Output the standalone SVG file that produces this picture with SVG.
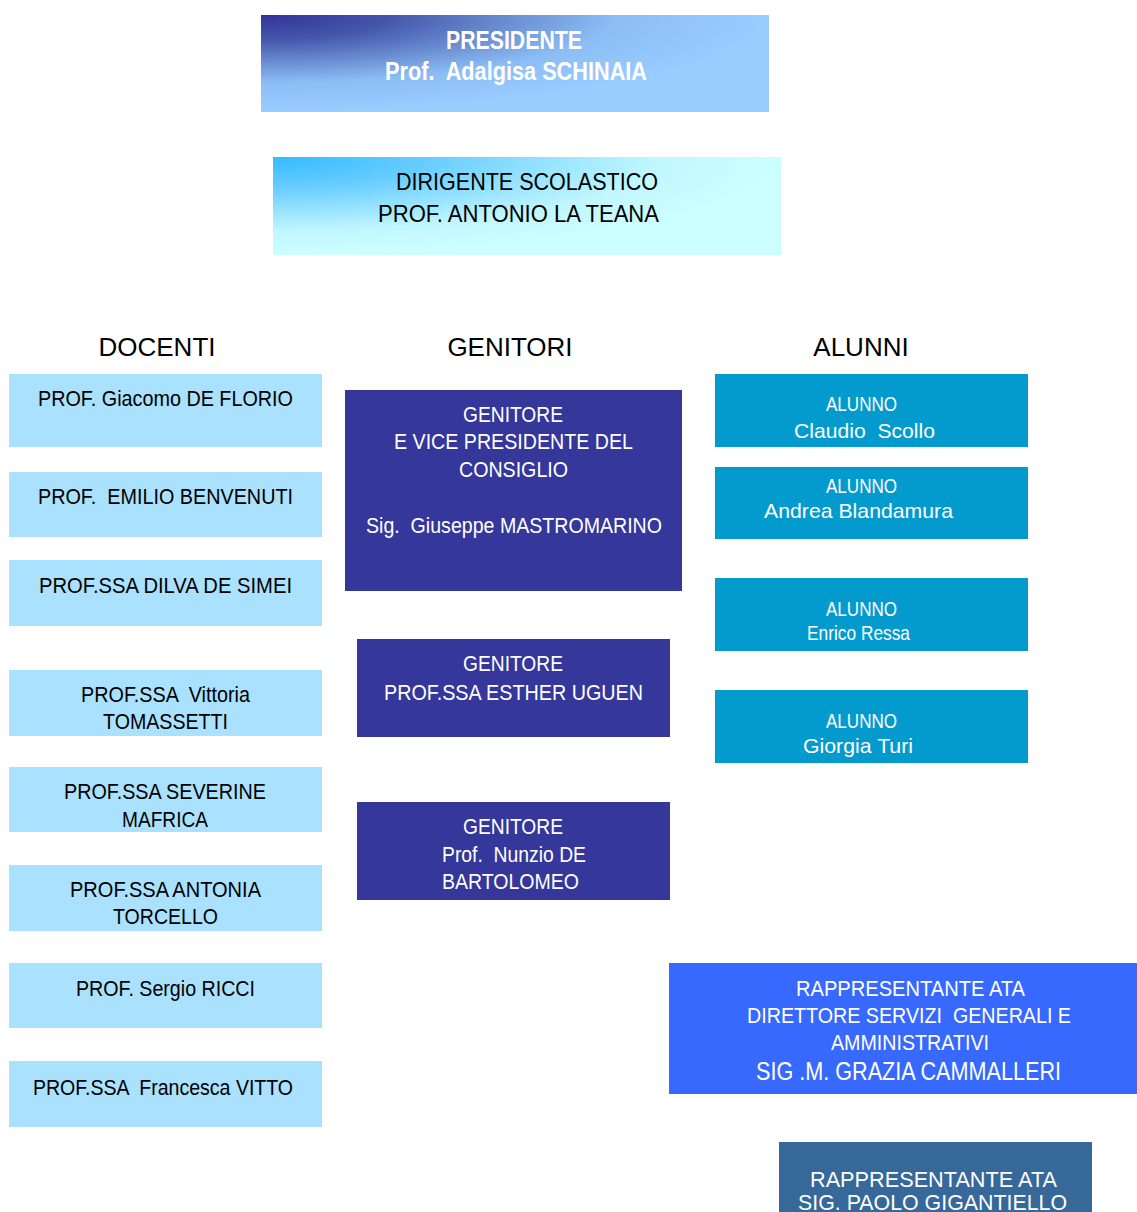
<svg xmlns="http://www.w3.org/2000/svg" width="1137" height="1212" viewBox="0 0 1137 1212">
<style>
text{font-family:"Liberation Sans",Arial,sans-serif;}
.t{font-size:22px;}
.dk{fill:#000;}
.wh{fill:#fff;}
.doc{fill:#AAE1FF;}
.gen{fill:#35379A;}
.alu{fill:#039BCE;}
.hdr{font-size:26px;fill:#000;text-anchor:middle;}
</style>
<defs>
<radialGradient id="gPres" cx="0" cy="0" r="1" fx="0" fy="0">
<stop offset="0" stop-color="#333399"/>
<stop offset="0.25" stop-color="#4456AA"/>
<stop offset="0.7" stop-color="#8CBEF5"/>
<stop offset="1" stop-color="#99CCFF"/>
</radialGradient>
<radialGradient id="gDir" cx="0" cy="0" r="1" fx="0" fy="0">
<stop offset="0" stop-color="#33BBFF"/>
<stop offset="0.3" stop-color="#66CCFF"/>
<stop offset="0.75" stop-color="#C0F6FF"/>
<stop offset="1" stop-color="#CCFFFF"/>
</radialGradient>
</defs>
<rect width="1137" height="1212" fill="#fff"/>

<g id="presidente">
<rect x="261" y="15" width="508" height="97" fill="url(#gPres)"/>
<text class="wh" x="446" y="49" font-size="26" font-weight="bold" textLength="136" lengthAdjust="spacingAndGlyphs">PRESIDENTE</text>
<text class="wh" x="385" y="80" font-size="26" font-weight="bold" textLength="262" lengthAdjust="spacingAndGlyphs" xml:space="preserve">Prof.  Adalgisa SCHINAIA</text>
</g>

<g id="dirigente">
<rect x="273" y="157" width="508" height="98" fill="url(#gDir)"/>
<text class="dk" x="396" y="190" font-size="24" textLength="262" lengthAdjust="spacingAndGlyphs">DIRIGENTE SCOLASTICO</text>
<text class="dk" x="378" y="222" font-size="24" textLength="281" lengthAdjust="spacingAndGlyphs">PROF. ANTONIO LA TEANA</text>
</g>

<g id="headers">
<text class="hdr" x="157" y="356">DOCENTI</text>
<text class="hdr" x="510" y="356">GENITORI</text>
<text class="hdr" x="861" y="356">ALUNNI</text>
</g>

<g id="docente1">
<rect class="doc" x="9" y="374" width="313" height="73"/>
<text class="t dk" x="38" y="406" textLength="255" lengthAdjust="spacingAndGlyphs">PROF. Giacomo DE FLORIO</text>
</g>
<g id="docente2">
<rect class="doc" x="9" y="472" width="313" height="65"/>
<text class="t dk" x="38" y="504" textLength="255" lengthAdjust="spacingAndGlyphs" xml:space="preserve">PROF.  EMILIO BENVENUTI</text>
</g>
<g id="docente3">
<rect class="doc" x="9" y="560" width="313" height="66"/>
<text class="t dk" x="39" y="593" textLength="253" lengthAdjust="spacingAndGlyphs">PROF.SSA DILVA DE SIMEI</text>
</g>
<g id="docente4">
<rect class="doc" x="9" y="670" width="313" height="66"/>
<text class="t dk" x="81" y="702" textLength="169" lengthAdjust="spacingAndGlyphs" xml:space="preserve">PROF.SSA  Vittoria</text>
<text class="t dk" x="103" y="729" textLength="125" lengthAdjust="spacingAndGlyphs">TOMASSETTI</text>
</g>
<g id="docente5">
<rect class="doc" x="9" y="767" width="313" height="65"/>
<text class="t dk" x="64" y="799" textLength="202" lengthAdjust="spacingAndGlyphs">PROF.SSA SEVERINE</text>
<text class="t dk" x="122" y="827" textLength="86" lengthAdjust="spacingAndGlyphs">MAFRICA</text>
</g>
<g id="docente6">
<rect class="doc" x="9" y="865" width="313" height="66"/>
<text class="t dk" x="70" y="897" textLength="191" lengthAdjust="spacingAndGlyphs">PROF.SSA ANTONIA</text>
<text class="t dk" x="113" y="924" textLength="105" lengthAdjust="spacingAndGlyphs">TORCELLO</text>
</g>
<g id="docente7">
<rect class="doc" x="9" y="963" width="313" height="65"/>
<text class="t dk" x="76" y="996" textLength="179" lengthAdjust="spacingAndGlyphs">PROF. Sergio RICCI</text>
</g>
<g id="docente8">
<rect class="doc" x="9" y="1061" width="313" height="66"/>
<text class="t dk" x="33" y="1095" textLength="260" lengthAdjust="spacingAndGlyphs" xml:space="preserve">PROF.SSA  Francesca VITTO</text>
</g>

<g id="genitore1">
<rect class="gen" x="345" y="390" width="337" height="201"/>
<text class="t wh" x="463" y="422" textLength="100" lengthAdjust="spacingAndGlyphs">GENITORE</text>
<text class="t wh" x="394" y="449" textLength="239" lengthAdjust="spacingAndGlyphs">E VICE PRESIDENTE DEL</text>
<text class="t wh" x="459" y="477" textLength="109" lengthAdjust="spacingAndGlyphs">CONSIGLIO</text>
<text class="t wh" x="366" y="533" textLength="296" lengthAdjust="spacingAndGlyphs" xml:space="preserve">Sig.  Giuseppe MASTROMARINO</text>
</g>
<g id="genitore2">
<rect class="gen" x="357" y="639" width="313" height="98"/>
<text class="t wh" x="463" y="671" textLength="100" lengthAdjust="spacingAndGlyphs">GENITORE</text>
<text class="t wh" x="384" y="700" textLength="259" lengthAdjust="spacingAndGlyphs">PROF.SSA ESTHER UGUEN</text>
</g>
<g id="genitore3">
<rect class="gen" x="357" y="802" width="313" height="98"/>
<text class="t wh" x="463" y="834" textLength="100" lengthAdjust="spacingAndGlyphs">GENITORE</text>
<text class="t wh" x="442" y="862" textLength="144" lengthAdjust="spacingAndGlyphs" xml:space="preserve">Prof.  Nunzio DE</text>
<text class="t wh" x="442" y="889" textLength="137" lengthAdjust="spacingAndGlyphs">BARTOLOMEO</text>
</g>

<g id="alunno1">
<rect class="alu" x="715" y="374" width="313" height="73"/>
<text class="wh" font-size="21" x="826" y="411" textLength="71" lengthAdjust="spacingAndGlyphs">ALUNNO</text>
<text class="wh" font-size="21" x="794" y="438" textLength="141" lengthAdjust="spacingAndGlyphs" xml:space="preserve">Claudio  Scollo</text>
</g>
<g id="alunno2">
<rect class="alu" x="715" y="467" width="313" height="72"/>
<text class="wh" font-size="21" x="826" y="493" textLength="71" lengthAdjust="spacingAndGlyphs">ALUNNO</text>
<text class="wh" font-size="21" x="764" y="518" textLength="189" lengthAdjust="spacingAndGlyphs">Andrea Blandamura</text>
</g>
<g id="alunno3">
<rect class="alu" x="715" y="578" width="313" height="73"/>
<text class="wh" font-size="21" x="826" y="616" textLength="71" lengthAdjust="spacingAndGlyphs">ALUNNO</text>
<text class="wh" font-size="21" x="807" y="640" textLength="103" lengthAdjust="spacingAndGlyphs">Enrico Ressa</text>
</g>
<g id="alunno4">
<rect class="alu" x="715" y="690" width="313" height="73"/>
<text class="wh" font-size="21" x="826" y="728" textLength="71" lengthAdjust="spacingAndGlyphs">ALUNNO</text>
<text class="wh" font-size="21" x="803" y="753" textLength="110" lengthAdjust="spacingAndGlyphs">Giorgia Turi</text>
</g>

<g id="ata1">
<rect x="669" y="963" width="468" height="131" fill="#3869FF"/>
<text class="t wh" x="796" y="996" textLength="229" lengthAdjust="spacingAndGlyphs">RAPPRESENTANTE ATA</text>
<text class="t wh" x="747" y="1023" textLength="324" lengthAdjust="spacingAndGlyphs" xml:space="preserve">DIRETTORE SERVIZI  GENERALI E</text>
<text class="t wh" x="831" y="1050" textLength="158" lengthAdjust="spacingAndGlyphs">AMMINISTRATIVI</text>
<text class="wh" font-size="26" x="756" y="1080" textLength="305" lengthAdjust="spacingAndGlyphs">SIG .M. GRAZIA CAMMALLERI</text>
</g>

<g id="ata2">
<rect x="779" y="1142" width="313" height="75" fill="#366899"/>
<text class="t wh" x="810" y="1187" textLength="247" lengthAdjust="spacingAndGlyphs">RAPPRESENTANTE ATA</text>
<text class="t wh" x="798" y="1210" textLength="269" lengthAdjust="spacingAndGlyphs">SIG. PAOLO GIGANTIELLO</text>
</g>

<g id="connectors"></g>
</svg>
